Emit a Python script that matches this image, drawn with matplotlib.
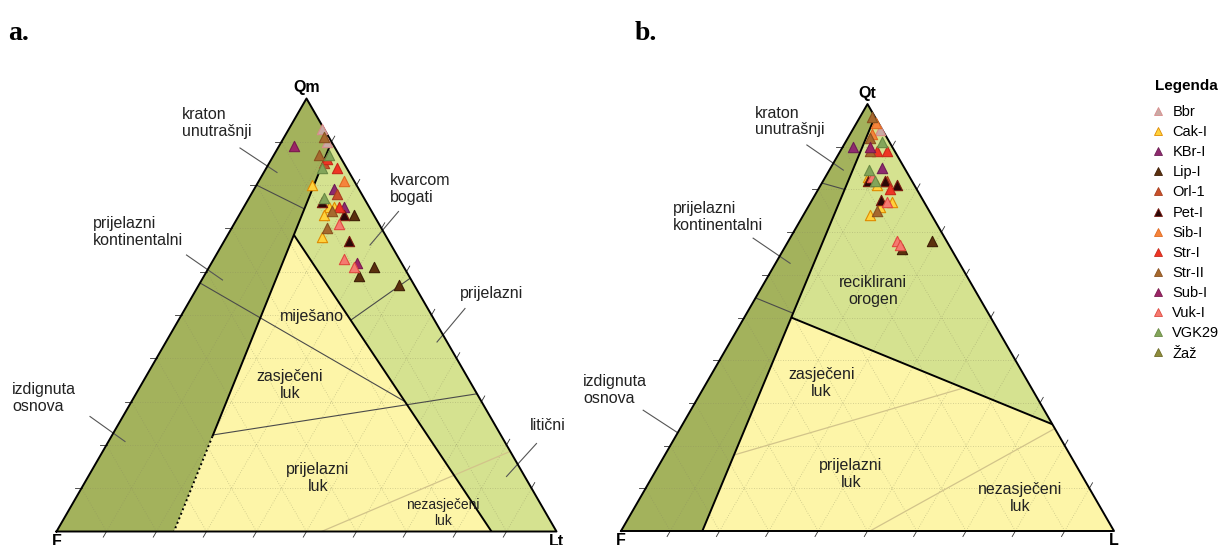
import numpy as np
import matplotlib.pyplot as plt
from matplotlib.lines import Line2D

plt.rcParams['font.family'] = ['Liberation Sans', 'DejaVu Sans']

# legend groups and marker colours
groups = ['Bbr', 'Cak-I', 'KBr-I', 'Lip-I', 'Orl-1', 'Pet-I', 'Sib-I',
          'Str-I', 'Str-II', 'Sub-I', 'Vuk-I', 'VGK29', 'Žaž']
face = ['#c9aaa5', '#ffd23c', '#8e2a6e', '#5b300e', '#c8502a', '#2b0808', '#f5843c',
        '#ee3524', '#a6692e', '#9b2566', '#f57a70', '#83a55a', '#8e8c3c']
edge = ['#d98c8c', '#e08a00', '#6d1f55', '#3e1e06', '#a83e1e', '#7a1a10', '#e06a20',
        '#c8281a', '#8a5220', '#7a1a4e', '#e04a40', '#6a8a45', '#6e6c28']

# a. Qm-F-Lt (%)
qm_a = [93, 91, 90, 87, 87, 86, 85, 84, 84, 81, 80, 79, 78, 77, 76, 75, 75, 75, 75,
        73, 74, 73, 73, 71, 70, 68, 67, 63, 62, 61, 61, 59, 57, 89]
f_a = [0.5, 1, 1, 4, 2, 3, 4, 5, 2, 2, 9, 5, 5, 8, 9, 8, 7, 6, 5,
       10, 8, 6, 4, 8, 11, 13, 8, 11, 9, 10, 6, 10, 3, 8]
lt_a = [6.5, 8, 9, 9, 11, 11, 11, 11, 14, 17, 11, 16, 17, 15, 15, 17, 18, 19, 20,
        17, 18, 21, 23, 21, 19, 19, 25, 26, 29, 29, 33, 31, 40, 3]
grp_a = ['Bbr', 'Str-II', 'Bbr', 'Str-II', 'VGK29', 'Str-I', 'Orl-1', 'VGK29', 'Str-I',
         'Sib-I', 'Cak-I', 'KBr-I', 'Orl-1', 'VGK29', 'Pet-I', 'Cak-I', 'Cak-I', 'Str-I',
         'KBr-I', 'Cak-I', 'Str-II', 'Pet-I', 'Lip-I', 'Vuk-I', 'Str-II', 'Cak-I', 'Pet-I',
         'Vuk-I', 'Sub-I', 'Vuk-I', 'Lip-I', 'Lip-I', 'Lip-I', 'Sub-I']

# b. Qt-F-L (%)
qt_b = [97, 95.5, 94, 93, 92, 90, 90, 91, 89, 89, 89, 85, 84.5, 83, 83, 82, 82, 82,
        82, 81, 81, 80, 77.5, 77, 77, 76, 75, 74, 68, 67, 66, 68]
f_b = [0.5, 0.5, 0.5, 2.5, 3.5, 8, 4.5, 1.5, 5, 3.5, 1.5, 4.5, 7.5, 8.5, 7.5, 9, 7.5, 5.5,
       5, 3.5, 7.5, 5.5, 8.5, 7.5, 6.5, 9.5, 10.5, 12.5, 10, 10, 10, 3]
l_b = [2.5, 4, 5.5, 4.5, 4.5, 2, 5.5, 7.5, 6, 7.5, 9.5, 10.5, 8, 8.5, 9.5, 9, 10.5, 12.5,
       13, 15.5, 11.5, 14.5, 14, 15.5, 16.5, 14.5, 14.5, 13.5, 22, 23, 24, 29]
grp_b = ['Str-II', 'Sib-I', 'Bbr', 'Sib-I', 'Str-II', 'KBr-I', 'Sub-I', 'VGK29', 'Str-II',
         'Str-I', 'Str-I', 'KBr-I', 'VGK29', 'Cak-I', 'Vuk-I', 'Pet-I', 'VGK29', 'Pet-I',
         'Orl-1', 'Pet-I', 'Cak-I', 'Str-I', 'Pet-I', 'Vuk-I', 'Cak-I', 'Cak-I', 'Str-II',
         'Cak-I', 'Vuk-I', 'Vuk-I', 'Lip-I', 'Lip-I']

DARK = '#a3b25c'
LIGHT = '#d5e290'
YELLOW = '#fdf5a8'
S3 = np.sqrt(3) / 2


def xy(top, right):
    top = np.asarray(top, float)
    right = np.asarray(right, float)
    return right + top / 2, top * S3


def on_line(p, q, top):
    # point on segment p-q (top, right) with given top value
    t = (top - p[0]) / (q[0] - p[0])
    return (top, p[1] + t * (q[1] - p[1]))


def seg(ax, p, q, **kw):
    x, y = xy([p[0], q[0]], [p[1], q[1]])
    ax.plot(x, y, solid_capstyle='butt', **kw)


def poly(ax, pts, color):
    x, y = xy([p[0] for p in pts], [p[1] for p in pts])
    ax.fill(x, y, color=color, lw=0, zorder=0)


def grid_ticks(ax):
    gkw = dict(color='#8a8a60', lw=0.6, ls=(0, (1, 2)), alpha=0.45, zorder=1)
    L = 0.013
    for k in range(1, 10):
        v = k / 10
        seg(ax, (v, 0), (v, 1 - v), **gkw)
        seg(ax, (0, v), (1 - v, v), **gkw)
        seg(ax, (0, 1 - v), (1 - v, 0), **gkw)
        # small ticks on the edges
        x, y = xy(0, v)
        ax.plot([x, x - 0.5 * L], [y, y - S3 * L], color='#333333', lw=0.6, zorder=3)
        x, y = xy(v, 0)
        ax.plot([x, x - L], [y, y], color='#333333', lw=0.6, zorder=3)
        x, y = xy(v, 1 - v)
        ax.plot([x, x + 0.5 * L], [y, y + S3 * L], color='#333333', lw=0.6, zorder=3)


def outline(ax):
    x, y = xy([0, 1, 0, 0], [0, 0, 1, 0])
    ax.plot(x, y, color='black', lw=1.4, zorder=3)


def points(ax, top, right, grp):
    top = np.array(top) / 100
    right = np.array(right) / 100
    grp = np.array(grp)
    for g, fc, ec in zip(groups, face, edge):
        m = grp == g
        if m.any():
            x, y = xy(top[m], right[m])
            ax.scatter(x, y, marker='^', s=55, facecolor=fc, edgecolor=ec,
                       linewidths=0.8, zorder=4)


def label(ax, x, y, s, ha='center', size=11.5):
    ax.text(x, y, s, ha=ha, va='center', fontsize=size, color='#222222',
            linespacing=1.1, zorder=5)


thin = dict(color='#4a4a4a', lw=0.8, zorder=2)
faint = dict(color='#d2c48a', lw=0.9, zorder=2)
thick = dict(color='black', lw=1.4, zorder=3)

fig = plt.figure(figsize=(12.25, 5.45), dpi=100)

# ---------------- a. QmFLt ----------------
ax = fig.add_axes([0, 0, 612 / 1225, 1])
ax.set_xlim(-56.5 / 500, (612 - 56.5) / 500)
ax.set_ylim((531.5 - 545) / 500, 531.5 / 500)
ax.axis('off')

a_top = (0.90, 0.10)
a_bot = (0.0, 0.235)
a_arc = on_line(a_top, a_bot, 0.685)
a_arc_r = (0.0, 0.87)
poly(ax, [(1, 0), a_top, a_bot, (0, 0)], DARK)
poly(ax, [a_top, (0, 1), a_arc_r, a_arc], LIGHT)
poly(ax, [a_arc, a_bot, a_arc_r], YELLOW)
grid_ticks(ax)

seg(ax, on_line(a_top, a_bot, 0.22), a_bot, color='black', lw=1.4, ls=(0, (1, 1.5)), zorder=3)
seg(ax, a_top, on_line(a_top, a_bot, 0.22), **thick)
seg(ax, a_arc, a_arc_r, **thick)
seg(ax, (0.80, 0), on_line(a_top, a_bot, 0.745), **thin)
seg(ax, (0.574, 0), on_line(a_arc, a_arc_r, 0.30), **thin)
seg(ax, on_line(a_top, a_bot, 0.223), (0.318, 0.682), **thin)
seg(ax, on_line(a_arc, a_arc_r, 0.488), (0.585, 0.415), **thin)
seg(ax, (0, 0.53), (0.185, 0.815), **faint)
outline(ax)

# leader lines
for p, q in [((0.367, 0.767), (0.441, 0.718)), ((0.260, 0.553), (0.332, 0.503)),
             ((0.067, 0.230), (0.137, 0.180)), ((0.684, 0.640), (0.627, 0.573)),
             ((0.817, 0.446), (0.761, 0.379)), ((0.960, 0.176), (0.900, 0.110))]:
    ax.plot([p[0], q[0]], [p[1], q[1]], color='#555555', lw=0.8, zorder=2)

points(ax, qm_a, lt_a, grp_a)

ax.text(0.5, 0.872, 'Qm', ha='center', va='bottom', fontsize=11.5, weight='bold')
ax.text(0.0, -0.004, 'F', ha='center', va='top', fontsize=11.5, weight='bold')
ax.text(1.0, -0.004, 'Lt', ha='center', va='top', fontsize=11.5, weight='bold')
label(ax, 0.251, 0.817, 'kraton\nunutrašnji', ha='left')
label(ax, 0.073, 0.599, 'prijelazni\nkontinentalni', ha='left')
label(ax, 0.667, 0.685, 'kvarcom\nbogati', ha='left')
label(ax, 0.871, 0.475, 'prijelazni')
label(ax, 0.511, 0.429, 'miješano')
label(ax, 0.467, 0.293, 'zasječeni\nluk')
label(ax, 0.523, 0.107, 'prijelazni\nluk')
label(ax, 0.773, 0.037, 'nezasječeni\nluk', size=10)
label(ax, -0.089, 0.267, 'izdignuta\nosnova', ha='left')
label(ax, 0.983, 0.211, 'litični')

# ---------------- b. QtFL ----------------
bx = fig.add_axes([612 / 1225, 0, 613 / 1225, 1])
bx.set_xlim((612 - 621) / 493, (1225 - 621) / 493)
bx.set_ylim((531 - 545) / 493, 531 / 493)
bx.axis('off')

b_top = (0.97, 0.03)
b_bot = (0.0, 0.165)
b_mid = on_line(b_top, b_bot, 0.50)
b_r = (0.25, 0.75)
poly(bx, [(1, 0), b_top, b_bot, (0, 0)], DARK)
poly(bx, [b_top, b_r, b_mid], LIGHT)
poly(bx, [b_mid, b_bot, (0, 1), b_r], YELLOW)
grid_ticks(bx)

seg(bx, b_top, b_bot, **thick)
seg(bx, b_mid, b_r, **thick)
seg(bx, (0.815, 0), on_line(b_top, b_bot, 0.80), **thin)
seg(bx, (0.546, 0), on_line(b_top, b_bot, 0.51), **thin)
seg(bx, on_line(b_top, b_bot, 0.178), on_line(b_mid, b_r, 0.335), **faint)
seg(bx, (0, 0.505), (0.24, 0.76), **faint)
outline(bx)

for p, q in [((0.377, 0.783), (0.451, 0.732)), ((0.268, 0.594), (0.343, 0.543)),
             ((0.045, 0.245), (0.114, 0.200))]:
    bx.plot([p[0], q[0]], [p[1], q[1]], color='#555555', lw=0.8, zorder=2)

points(bx, qt_b, l_b, grp_b)

bx.text(0.5, 0.872, 'Qt', ha='center', va='bottom', fontsize=11.5, weight='bold')
bx.text(0.0, -0.004, 'F', ha='center', va='top', fontsize=11.5, weight='bold')
bx.text(1.0, -0.004, 'L', ha='center', va='top', fontsize=11.5, weight='bold')
label(bx, 0.272, 0.830, 'kraton\nunutrašnji', ha='left')
label(bx, 0.105, 0.637, 'prijelazni\nkontinentalni', ha='left')
label(bx, 0.511, 0.487, 'reciklirani\norogen')
label(bx, -0.077, 0.286, 'izdignuta\nosnova', ha='left')
label(bx, 0.406, 0.300, 'zasječeni\nluk')
label(bx, 0.4665, 0.1156, 'prijelazni\nluk')
label(bx, 0.809, 0.067, 'nezasječeni\nluk')

# legend
handles = [Line2D([], [], ls='none', marker='^', ms=6, markerfacecolor=fc,
                  markeredgecolor=ec, markeredgewidth=0.6, label=g)
           for g, fc, ec in zip(groups, face, edge)]
fig.legend(handles=handles, loc='upper left', bbox_to_anchor=(1152 / 1225, 1 - 105 / 545),
           frameon=False, fontsize=10.5, labelspacing=0.42, handlelength=0.8,
           handletextpad=0.6, borderpad=0, borderaxespad=0)
fig.text(1155 / 1225, 1 - 86 / 545, 'Legenda', fontsize=11, weight='bold', va='center')

fig.text(8 / 1225, 1 - 40 / 545, 'a.', fontsize=20, weight='bold', family='Liberation Serif')
fig.text(635 / 1225, 1 - 40 / 545, 'b.', fontsize=20, weight='bold', family='Liberation Serif')

fig.savefig('out.png', dpi=100)
